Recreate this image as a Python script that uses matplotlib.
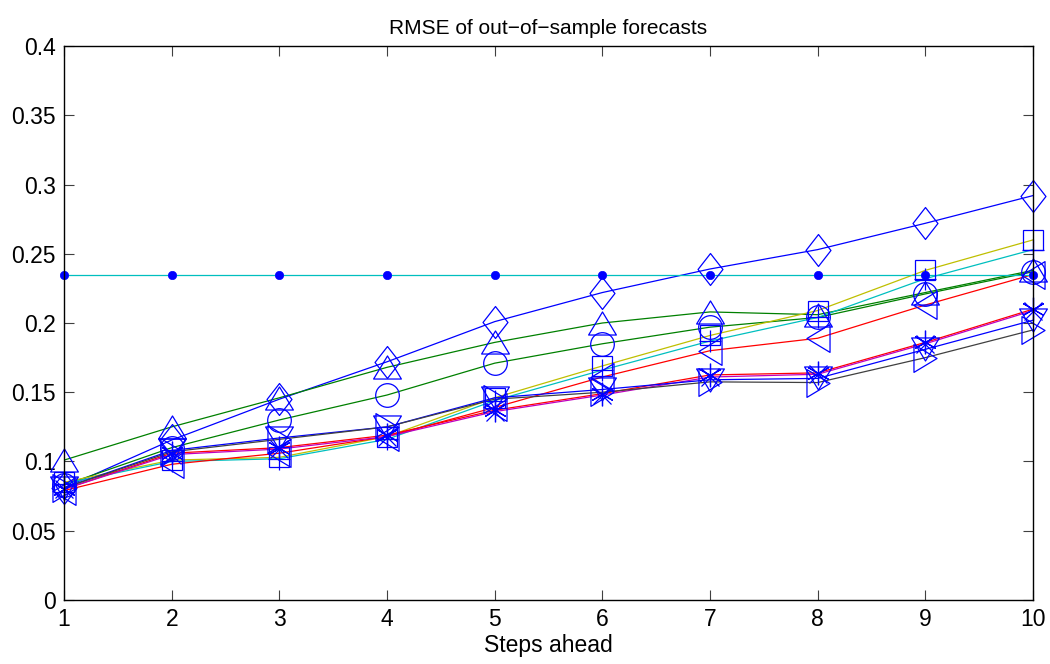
import matplotlib
matplotlib.use("Agg")
import matplotlib.pyplot as plt
import numpy as np
from matplotlib.path import Path

plt.rcParams['font.family'] = ['Liberation Sans', 'DejaVu Sans']

steps = [1, 2, 3, 4, 5, 6, 7, 8, 9, 10]

rmse_blue_diamond = [0.081, 0.1155, 0.145, 0.172, 0.201, 0.222, 0.239, 0.253, 0.272, 0.292]
rmse_green_up = [0.101, 0.125, 0.146, 0.168, 0.186, 0.200, 0.208, 0.206, 0.222, 0.238]
rmse_green_circle = [0.083, 0.110, 0.130, 0.148, 0.171, 0.185, 0.197, 0.204, 0.221, 0.237]
rmse_yellow_square = [0.085, 0.101, 0.103, 0.118, 0.146, 0.169, 0.191, 0.209, 0.238, 0.260]
rmse_cyan_plus = [0.084, 0.100, 0.102, 0.116, 0.144, 0.166, 0.187, 0.204, 0.232, 0.253]
rmse_red_left = [0.079, 0.098, 0.106, 0.118, 0.139, 0.161, 0.180, 0.189, 0.213, 0.235]
rmse_red_star = [0.080, 0.106, 0.110, 0.119, 0.137, 0.149, 0.1625, 0.164, 0.186, 0.210]
rmse_magenta_x = [0.080, 0.105, 0.109, 0.118, 0.136, 0.148, 0.161, 0.163, 0.185, 0.209]
rmse_blue_down = [0.081, 0.108, 0.117, 0.125, 0.146, 0.152, 0.159, 0.160, 0.181, 0.202]
rmse_black_right = [0.081, 0.107, 0.116, 0.125, 0.145, 0.150, 0.1575, 0.157, 0.175, 0.195]
rmse_cyan_dot = [0.235, 0.235, 0.235, 0.235, 0.235, 0.235, 0.235, 0.235, 0.235, 0.235]

yticks = [0, 0.05, 0.1, 0.15, 0.2, 0.25, 0.3, 0.35, 0.4]
ytick_labels = ['0', '0.05', '0.1', '0.15', '0.2', '0.25', '0.3', '0.35', '0.4']

# custom marker shapes (MATLAB-like proportions)
diamond = Path([(0, 1), (0.78, 0), (0, -1), (-0.78, 0), (0, 1)], closed=True)
tri_up = Path([(0, 0.83), (1, -0.83), (-1, -0.83), (0, 0.83)], closed=True)
tri_down = Path([(0, -0.83), (1, 0.83), (-1, 0.83), (0, -0.83)], closed=True)
tri_left = Path([(-0.83, 0), (0.83, 1), (0.83, -1), (-0.83, 0)], closed=True)
tri_right = Path([(0.83, 0), (-0.83, 1), (-0.83, -1), (0.83, 0)], closed=True)

series = [
    (rmse_blue_diamond, 'b', diamond, 23),
    (rmse_green_up, 'g', tri_up, 20),
    (rmse_green_circle, 'g', 'o', 17),
    (rmse_yellow_square, 'y', 's', 14),
    (rmse_cyan_plus, 'c', '+', 16),
    (rmse_red_left, 'r', tri_left, 20),
    (rmse_red_star, 'r', (6, 2, 0), 17),
    (rmse_magenta_x, 'm', 'x', 13),
    (rmse_blue_down, 'b', tri_down, 20),
    (rmse_black_right, 'k', tri_right, 20),
]

colors = {'b': '#0000ff', 'g': '#008000', 'y': '#bfbf00', 'c': '#00bfbf',
          'r': '#ff0000', 'm': '#bf00bf', 'k': '#404040'}

fig = plt.figure(figsize=(10.5, 6.64), dpi=100)
ax = fig.add_axes([0.061, 0.0964, 0.9228, 0.8343])

for vals, c, m, ms in series:
    ax.plot(steps, vals, '-', color=colors[c], lw=0.9, zorder=2)
    ax.plot(steps, vals, linestyle='none', marker=m, ms=ms, mec='#0000ff',
            mfc='none', mew=0.9, zorder=3, clip_on=False)

ax.plot(steps, rmse_cyan_dot, '-', color=colors['c'], lw=0.9, zorder=2)
ax.plot(steps, rmse_cyan_dot, linestyle='none', marker='o', ms=6,
        mec='#0000ff', mfc='#0000ff', mew=0.5, zorder=3, clip_on=False)

ax.set_xlim(1, 10)
ax.set_ylim(0, 0.4)
ax.set_xticks(steps)
ax.set_xticklabels([str(s) for s in steps])
ax.set_yticks(yticks)
ax.set_yticklabels(ytick_labels)
ax.tick_params(direction='in', length=7, width=0.8, labelsize=16.5,
               top=True, right=True, color='#404040', pad=6)
for sp in ax.spines.values():
    sp.set_linewidth(1.0)
    sp.set_color('black')
    sp.set_zorder(4)

ax.set_title('RMSE of out\u2212of\u2212sample forecasts', fontsize=15, pad=9)
ax.set_xlabel('Steps ahead', fontsize=16.5, labelpad=2)

fig.savefig('out.png', dpi=100)
